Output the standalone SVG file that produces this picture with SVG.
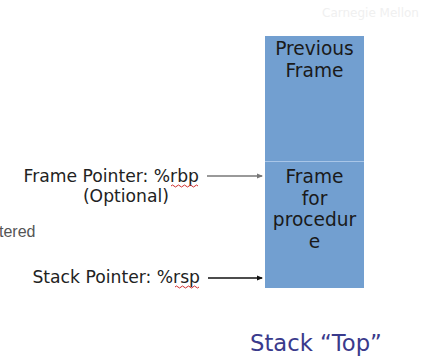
<svg xmlns="http://www.w3.org/2000/svg" width="421" height="357" viewBox="0 0 421 357">
  <style>
    .lbl { font-family: "DejaVu Sans", Verdana, sans-serif; font-size: 17.2px; fill: #222222; }
    .box-t { font-family: "DejaVu Sans", Verdana, sans-serif; font-size: 18.6px; fill: #1a1a1a; text-anchor: middle; }
    .frame { fill: #729fd0; }
    .squig { fill: none; stroke: #d03030; stroke-width: 1; }
  </style>
  <defs>
    <marker id="ahGray" markerWidth="6" markerHeight="6" refX="5" refY="3" orient="auto" markerUnits="userSpaceOnUse">
      <path d="M0,0.5 L6,3 L0,5.5 Z" fill="#777777"/>
    </marker>
    <marker id="ahBlack" markerWidth="6" markerHeight="6" refX="5" refY="3" orient="auto" markerUnits="userSpaceOnUse">
      <path d="M0,0.5 L6,3 L0,5.5 Z" fill="#111111"/>
    </marker>
  </defs>
  <rect width="421" height="357" fill="#ffffff"/>

  <!-- faint header mark -->
  <text x="322" y="17" font-family="DejaVu Sans, sans-serif" font-size="12" fill="#f0f0f0">Carnegie Mellon</text>

  <!-- stack frames -->
  <g id="previous-frame">
    <rect class="frame" x="265" y="36" width="99" height="125"/>
    <text class="box-t" x="314.5" y="55">Previous</text>
    <text class="box-t" x="314.5" y="77">Frame</text>
  </g>
  <g id="current-frame">
    <rect class="frame" x="265" y="161" width="99" height="127"/>
    <line x1="265" y1="161.5" x2="364" y2="161.5" stroke="#a9c6e8" stroke-width="1"/>
    <text class="box-t" x="314.5" y="183">Frame</text>
    <text class="box-t" x="314.5" y="205">for</text>
    <text class="box-t" x="314.5" y="226">procedur</text>
    <text class="box-t" x="314.5" y="248">e</text>
  </g>

  <!-- pointer labels -->
  <g id="frame-pointer">
    <text class="lbl" x="199" y="182" text-anchor="end">Frame Pointer: %rbp</text>
    <text class="lbl" x="169" y="202" text-anchor="end">(Optional)</text>
    <path class="squig" d="M171,186 q1.5,-2 3,0 t3,0 t3,0 t3,0 t3,0 t3,0 t3,0 t3,0 t3,0"/>
  </g>
  <g id="stack-pointer">
    <text class="lbl" x="200" y="283" text-anchor="end">Stack Pointer: %rsp</text>
    <path class="squig" d="M175,287 q1.5,-2 3,0 t3,0 t3,0 t3,0 t3,0 t3,0 t3,0 t3,0"/>
  </g>
  <text x="-1" y="237" font-family="Liberation Sans, Arial, sans-serif" font-size="16" fill="#555555">tered</text>

  <!-- connectors -->
  <g id="connectors">
    <line x1="207" y1="176" x2="262" y2="176" stroke="#777777" stroke-width="1.5" marker-end="url(#ahGray)"/>
    <line x1="208" y1="278" x2="262" y2="278" stroke="#111111" stroke-width="1.5" marker-end="url(#ahBlack)"/>
  </g>

  <text x="250" y="351" font-family="DejaVu Sans, Verdana, sans-serif" font-size="22.7" fill="#3a3a8c">Stack “Top”</text>
</svg>
